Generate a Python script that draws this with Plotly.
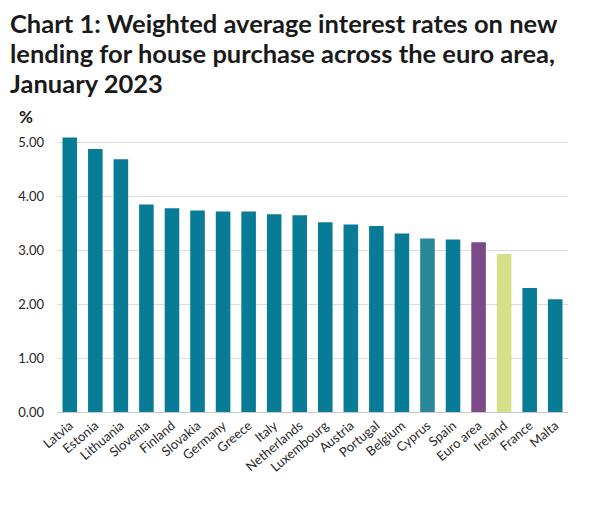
import plotly.graph_objects as go

countries = ["Latvia", "Estonia", "Lithuania", "Slovenia", "Finland", "Slovakia",
             "Germany", "Greece", "Italy", "Netherlands", "Luxembourg", "Austria",
             "Portugal", "Belgium", "Cyprus", "Spain", "Euro area", "Ireland",
             "France", "Malta"]
rates = [5.09, 4.88, 4.69, 3.85, 3.78, 3.74, 3.72, 3.72, 3.67, 3.65, 3.52, 3.48,
         3.45, 3.31, 3.22, 3.20, 3.15, 2.93, 2.30, 2.09]

title_lines = ["Chart 1: Weighted average interest rates on new",
               "lending for house purchase across the euro area,",
               "January 2023"]
y_ticks = [0, 1, 2, 3, 4, 5]

TEAL = "#087B97"
special = {"Cyprus": "#2A8799", "Euro area": "#7A4A89", "Ireland": "#D5E189"}
colors = [special.get(c, TEAL) for c in countries]

fig = go.Figure(go.Bar(x=countries, y=rates, marker=dict(color=colors, line=dict(width=0)),
                       width=0.57))

W, H = 614, 506
OFF = 8  # page body margin offset
L, R = 57 - OFF, 568 - OFF
top, bottom = 129 - OFF, 412 - OFF
ph = bottom - top
pw = R - L

def py(p):
    return (bottom - (p - OFF)) / ph

def px(p):
    return ((p - OFF) - L) / pw

annots = []
for line, yc in zip(title_lines, [23, 53, 83]):
    annots.append(dict(text=line, xref="paper", yref="paper", x=px(8),
                       y=py(yc), xanchor="left", yanchor="middle", showarrow=False,
                       height=30, valign="middle",
                       font=dict(family="Lato", size=25.5, color="#1a1a1a", weight=700)))
annots.append(dict(text="%", xref="paper", yref="paper", x=px(17), y=py(117),
                   xanchor="left", yanchor="middle", showarrow=False,
                   font=dict(family="Lato", size=17, color="#1a1a1a", weight=700)))

fig.update_layout(
    width=W, height=H,
    margin=dict(l=L, r=W - R, t=top, b=H - bottom),
    paper_bgcolor="white", plot_bgcolor="white",
    showlegend=False,
    annotations=annots,
    font=dict(family="Lato", color="#262626"),
    xaxis=dict(tickangle=-40, tickfont=dict(size=13, family="Lato", color="#262626"),
               showline=True, linecolor="#c8c8c8", linewidth=1, ticks="",
               showgrid=False, automargin=False),
    yaxis=dict(range=[0, 5.25], tickvals=y_ticks, tickformat=".2f",
               tickfont=dict(size=13, family="Lato", color="#262626"),
               showgrid=True, gridcolor="#dcdcdc", gridwidth=1, zeroline=False,
               ticks="", ticklabelstandoff=12, automargin=False),
)

fig.write_html("out.html")
